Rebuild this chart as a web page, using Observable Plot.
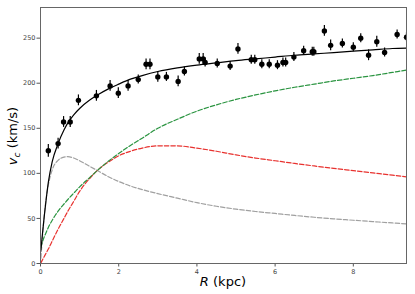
<!DOCTYPE html>
<html>
<head>
<meta charset="utf-8">
<script src="https://cdn.jsdelivr.net/npm/d3@7"></script>
<script src="https://cdn.jsdelivr.net/npm/@observablehq/plot@0.6"></script>
<style>
  html, body { margin: 0; padding: 0; background: white; }
  #chart { width: 415px; height: 294px; }
</style>
</head>
<body>
<div id="chart"></div>
<script>
// Observed rotation curve
const R_obs = [0.2, 0.45, 0.59, 0.76, 0.97, 1.43, 1.78, 1.99, 2.24, 2.5, 2.7, 2.8, 3.0, 3.22, 3.52, 3.68, 4.06, 4.16, 4.21, 4.52, 4.85, 5.05, 5.39, 5.48, 5.66, 5.85, 6.06, 6.2, 6.27, 6.48, 6.73, 6.95, 6.99, 7.26, 7.42, 7.72, 8.0, 8.19, 8.39, 8.6, 8.8, 9.12, 9.36];
const v_obs = [125, 133, 157, 157, 181, 186, 197, 189, 197, 204, 221, 221, 207, 207, 202, 213, 227, 227, 223, 222, 219, 238, 226, 226, 221, 221, 220, 223, 223, 229, 236, 235, 235, 258, 242, 244, 240, 250, 231, 246, 234, 254, 251];
const v_err = [7, 6, 6, 6, 6, 6, 6, 6, 6, 5, 6, 6, 6, 5, 6, 5, 6, 6, 5, 5, 5, 6, 5, 5, 5, 5, 5, 5, 5, 5, 5, 5, 5, 6, 6, 5, 5, 5, 6, 6, 5, 5, 5];

// Model curves sampled at these radii
const R_model = [0.01, 0.05, 0.1, 0.15, 0.2, 0.3, 0.45, 0.6, 0.7, 0.85, 1.0, 1.25, 1.5, 1.75, 2.0, 2.3, 2.6, 3.0, 3.5, 4.0, 4.5, 5.0, 5.5, 6.0, 6.5, 7.0, 7.5, 8.0, 8.5, 9.0, 9.36];
const v_total = [15, 33, 54, 73, 90, 113, 133, 148, 156, 165, 172, 181, 188, 194, 199, 204.5, 208.5, 213, 217, 220, 222.5, 225, 227, 229, 231, 232.5, 234, 235.5, 237, 238.5, 239];
const v_bulge = [6, 30, 55, 74, 87, 104, 114.5, 118, 118.5, 117, 114, 108, 102, 96, 91, 86, 82, 77.5, 72.5, 67.5, 63.5, 60.3, 57.7, 55.5, 53.3, 51.3, 49.5, 48, 46.5, 45, 44];
const v_disk = [0.5, 4, 8, 12, 16, 25, 38, 50, 58, 69, 80, 94, 105, 113, 119.5, 124.5, 128, 130.5, 130.5, 128, 124.5, 120.5, 117, 114, 111, 108.2, 105.5, 103, 100.5, 98, 96];
const v_halo = [18, 24, 30, 35, 40, 48, 58, 66, 71, 78, 85, 95, 105, 114, 122, 131, 139, 150, 160, 169, 176, 182, 187, 191.5, 195.5, 199, 202.5, 205.5, 208.5, 212, 214.5];

const xTicks = [0, 2, 4, 6, 8];
const yTicks = [0, 50, 100, 150, 200, 250];

const obs = R_obs.map((r, i) => ({R: r, v: v_obs[i], lo: v_obs[i] - v_err[i], hi: v_obs[i] + v_err[i]}));
const model = (vals) => R_model.map((r, i) => ({R: r, v: vals[i]}));

const chart = Plot.plot({
  width: 415,
  height: 294,
  marginLeft: 40,
  marginRight: 9,
  marginTop: 7,
  marginBottom: 31,
  style: {fontFamily: "DejaVu Sans", fontSize: "6.5px", background: "white", color: "#333"},
  x: {domain: [0, 9.36]},
  y: {domain: [0, 284]},
  marks: [
    Plot.line(model(v_bulge), {x: "R", y: "v", stroke: "#a0a0a0", strokeWidth: 1.2, strokeDasharray: "4.5,2", curve: "monotone-x"}),
    Plot.line(model(v_disk), {x: "R", y: "v", stroke: "#e8322f", strokeWidth: 1.2, strokeDasharray: "4.5,2", curve: "monotone-x"}),
    Plot.line(model(v_halo), {x: "R", y: "v", stroke: "#2a9440", strokeWidth: 1.2, strokeDasharray: "4.5,2", curve: "monotone-x"}),
    Plot.line(model(v_total), {x: "R", y: "v", stroke: "black", strokeWidth: 1.2, curve: "monotone-x"}),
    Plot.ruleX(obs, {x: "R", y1: "lo", y2: "hi", stroke: "black", strokeWidth: 1.2, clip: "frame"}),
    Plot.dot(obs, {x: "R", y: "v", r: 2.7, fill: "black", stroke: "none", clip: "frame"}),
    Plot.axisX({ticks: xTicks, tickSize: 3.5, tickPadding: 2, label: null, stroke: "#555", fill: "#444"}),
    Plot.axisY({ticks: yTicks, tickSize: 3.5, tickPadding: 1.5, label: null, stroke: "#555", fill: "#444"}),
    Plot.frame({stroke: "#666", strokeWidth: 1})
  ]
});

const svg = d3.select(chart);
// x-axis label
const xl = svg.append("text")
  .attr("x", 223).attr("y", 286)
  .attr("text-anchor", "middle")
  .attr("font-family", "DejaVu Sans")
  .attr("font-size", 13)
  .attr("fill", "black");
xl.append("tspan").attr("font-style", "italic").text("R");
xl.append("tspan").text(" (kpc)");

// y-axis label
const yl = svg.append("text")
  .attr("transform", "translate(17,136) rotate(-90)")
  .attr("text-anchor", "middle")
  .attr("font-family", "DejaVu Sans")
  .attr("font-size", 13)
  .attr("fill", "black");
yl.append("tspan").attr("font-style", "italic").text("v");
yl.append("tspan").attr("font-style", "italic").attr("font-size", 9).attr("dy", 3).text("c");
yl.append("tspan").attr("dy", -3).text(" (km/s)");

document.getElementById("chart").appendChild(chart);
</script>
</body>
</html>
